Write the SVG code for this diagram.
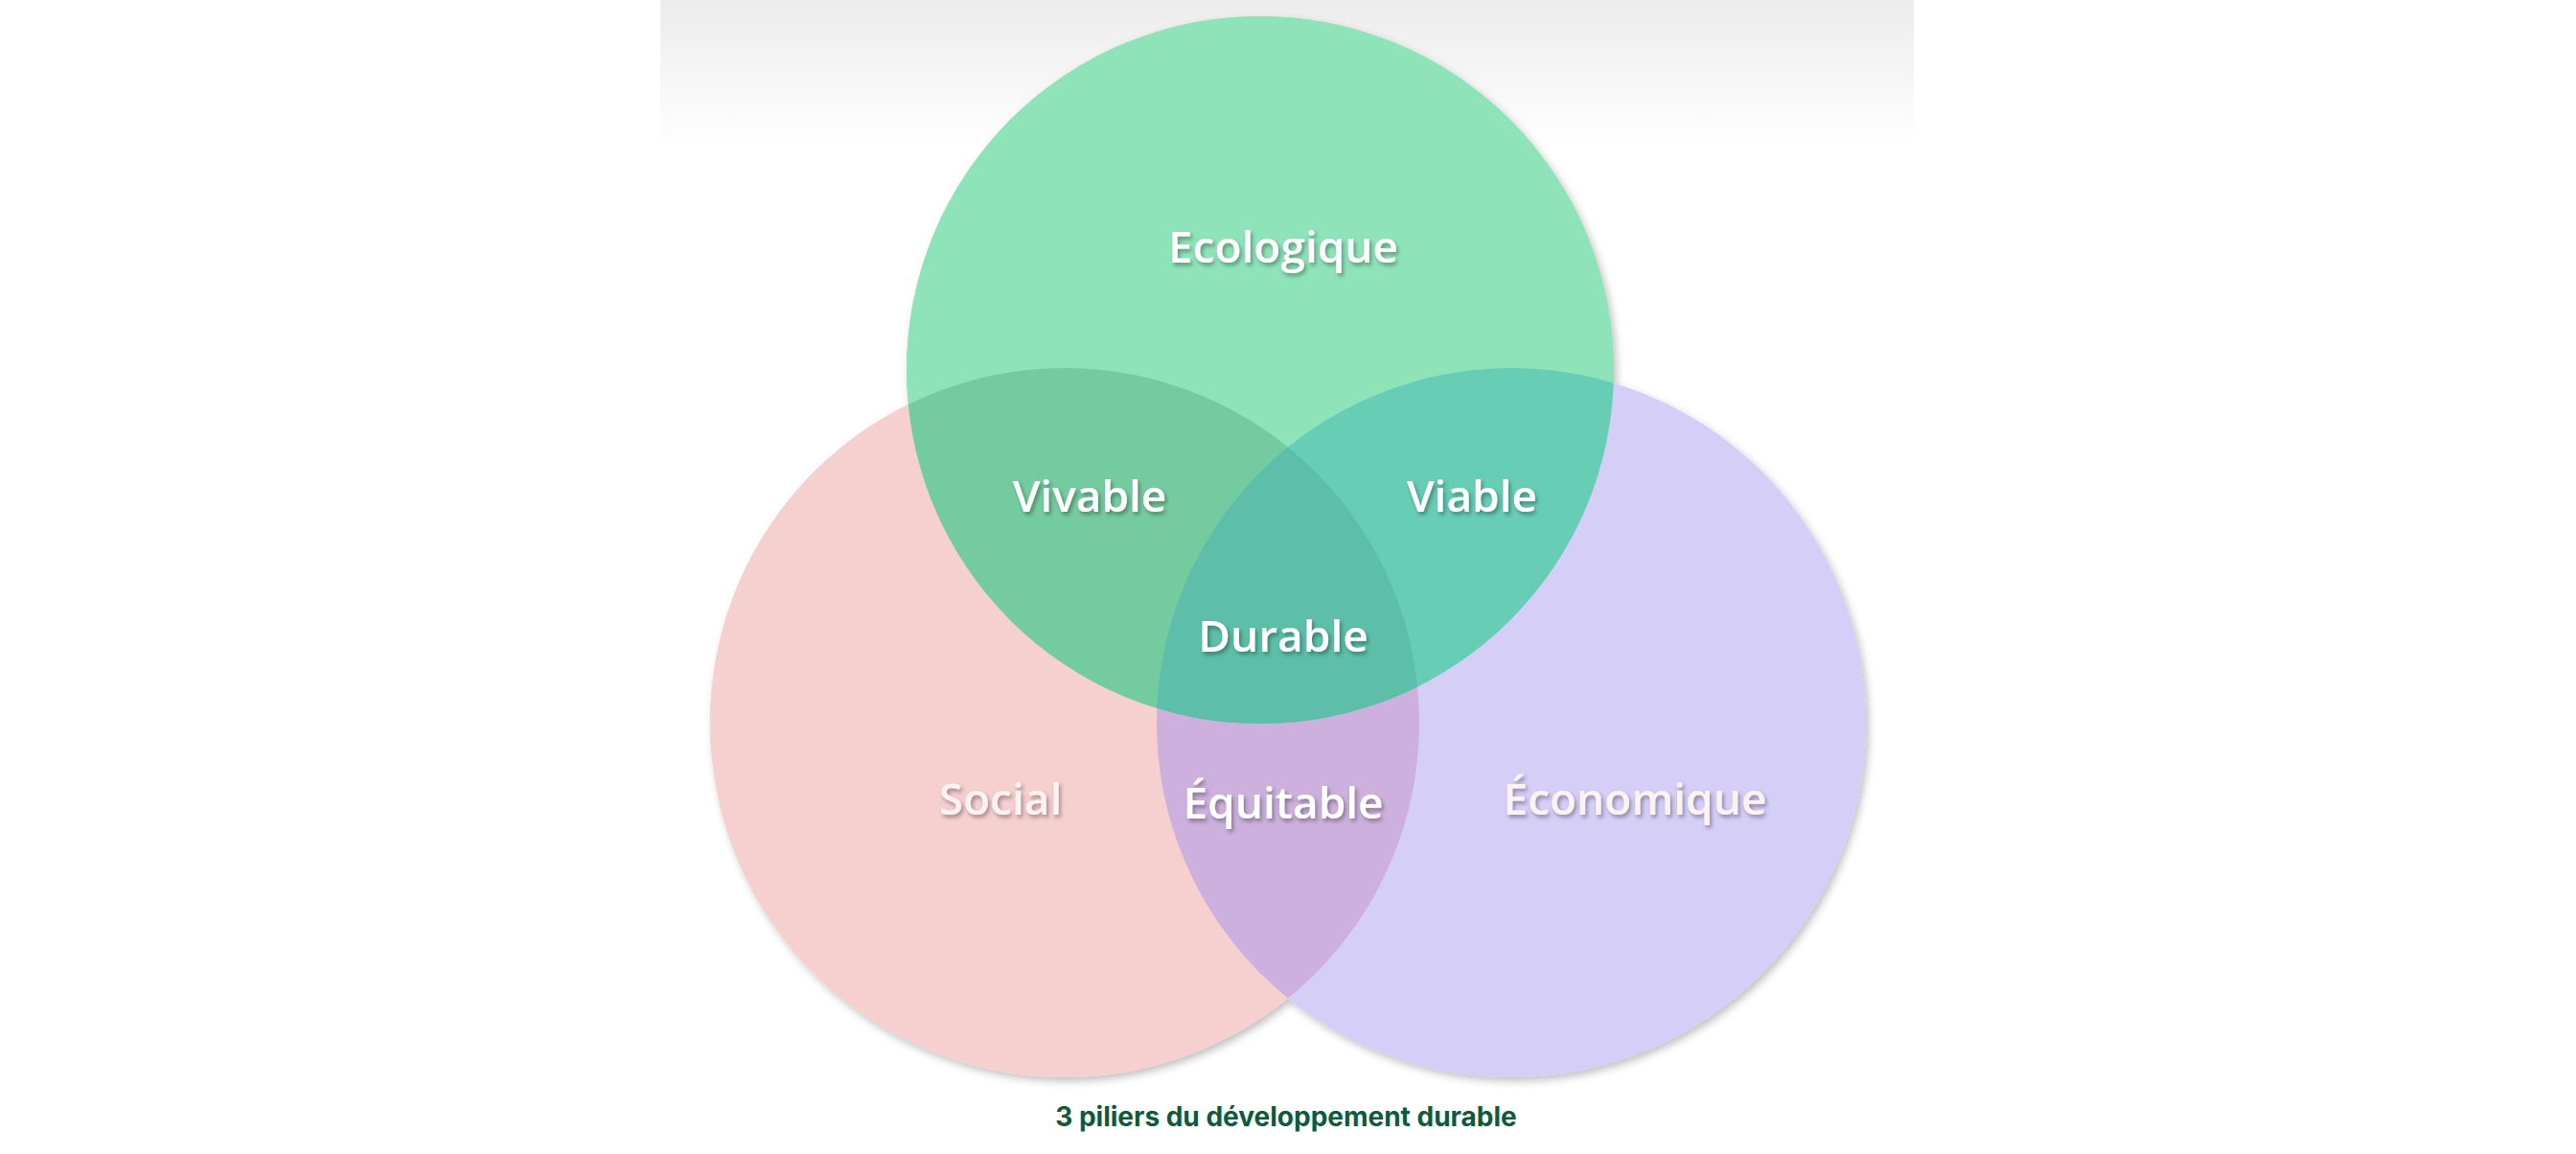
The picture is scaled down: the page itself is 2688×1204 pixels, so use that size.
<svg xmlns="http://www.w3.org/2000/svg" width="2688" height="1204" viewBox="0 0 2688 1204">
<defs>
<linearGradient id="top" x1="0" y1="0" x2="0" y2="1"><stop offset="0" stop-color="#ececec"/><stop offset="1" stop-color="#ffffff"/></linearGradient>
<filter id="sh" x="-10%" y="-10%" width="120%" height="120%"><feDropShadow dx="3" dy="4" stdDeviation="4" flood-color="#000" flood-opacity="0.25"/></filter>
<filter id="ts" x="-10%" y="-30%" width="120%" height="160%"><feDropShadow dx="2" dy="3" stdDeviation="2" flood-color="#000" flood-opacity="0.35"/></filter>
<clipPath id="cR"><circle cx="1111" cy="754" r="370"/></clipPath>
<clipPath id="cP"><circle cx="1577" cy="754" r="370"/></clipPath>
<clipPath id="cG"><circle cx="1315" cy="386" r="369"/></clipPath>
</defs>
<style>
.lbl{font-family:"Open Sans","DejaVu Sans",sans-serif;font-size:46px;font-weight:600;fill:#fff;text-anchor:middle;filter:url(#ts)}
.dim{fill:#fdf2f2}
.cap{font-family:Inter,"Liberation Sans",sans-serif;font-size:28px;font-weight:700;fill:#0d5a3c;text-anchor:middle}
</style>
<rect width="2688" height="1204" fill="#fff"/>
<rect x="689" y="0" width="1308" height="154" fill="url(#top)"/>
<g id="shadows" filter="url(#sh)">
<circle cx="1111" cy="754" r="370" fill="#f6cfcf"/>
<circle cx="1577" cy="754" r="370" fill="#d5cff7"/>
<circle cx="1315" cy="386" r="369" fill="#8ee3b9"/>
</g>
<g id="social"><circle cx="1111" cy="754" r="370" fill="#f6cfcf"/></g>
<g id="economique"><circle cx="1577" cy="754" r="370" fill="#d5cff7"/></g>
<g id="equitable" clip-path="url(#cR)"><circle cx="1577" cy="754" r="370" fill="#cdb0dd"/></g>
<g id="ecologique"><circle cx="1315" cy="386" r="369" fill="#8ee3b9"/></g>
<g id="vivable" clip-path="url(#cG)"><circle cx="1111" cy="754" r="370" fill="#75cba0"/></g>
<g id="viable" clip-path="url(#cG)"><circle cx="1577" cy="754" r="370" fill="#67cdb5"/></g>
<g id="durable" clip-path="url(#cG)"><g clip-path="url(#cR)"><circle cx="1577" cy="754" r="370" fill="#5dbfa9"/></g></g>
<g id="connectors"/>
<g id="labels">
<text class="lbl" x="1339" y="274">Ecologique</text>
<text class="lbl" x="1137" y="534">Vivable</text>
<text class="lbl" x="1536" y="534">Viable</text>
<text class="lbl" x="1339" y="680">Durable</text>
<text class="lbl dim" x="1044" y="850">Social</text>
<text class="lbl" x="1339" y="854">Équitable</text>
<text class="lbl dim" x="1706" y="850">Économique</text>
</g>
<text class="cap" x="1342" y="1175">3 piliers du développement durable</text>
</svg>
